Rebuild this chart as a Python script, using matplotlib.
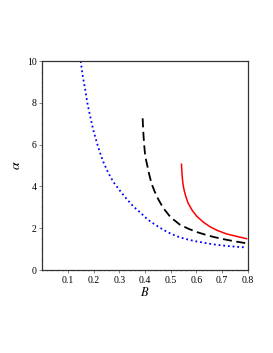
import matplotlib
matplotlib.use("Agg")
import matplotlib.pyplot as plt
from matplotlib.ticker import MultipleLocator

plt.rcParams['font.family'] = ['Liberation Serif', 'DejaVu Serif']
plt.rcParams['mathtext.fontset'] = 'stix'

blue_B = [0.150, 0.158, 0.167, 0.176, 0.186, 0.198, 0.212, 0.225, 0.238, 0.257, 0.277, 0.305,
          0.329, 0.355, 0.381, 0.407, 0.426, 0.45, 0.471, 0.50, 0.536, 0.57, 0.60, 0.665, 0.72, 0.76, 0.795]
blue_a = [10.0, 9.3, 8.69, 8.0, 7.42, 6.75, 6.14, 5.62, 5.18, 4.66, 4.22, 3.76,
          3.40, 3.04, 2.76, 2.46, 2.28, 2.09, 1.93, 1.74, 1.56, 1.45, 1.37, 1.23, 1.15, 1.11, 1.08]

black_B = [0.391, 0.393, 0.396, 0.398, 0.400, 0.404, 0.409, 0.416, 0.426, 0.438, 0.452, 0.471,
           0.50, 0.536, 0.57, 0.601, 0.635, 0.665, 0.70, 0.75, 0.795]
black_a = [7.26, 6.7, 6.14, 5.85, 5.58, 5.28, 5.0, 4.6, 4.12, 3.75, 3.38, 2.97,
           2.52, 2.17, 1.97, 1.82, 1.69, 1.59, 1.49, 1.37, 1.28]

red_B = [0.542, 0.543, 0.544, 0.546, 0.549, 0.553, 0.558, 0.568, 0.584, 0.601, 0.626, 0.652,
         0.68, 0.717, 0.76, 0.795]
red_a = [5.06, 4.8, 4.6, 4.3, 4.02, 3.78, 3.55, 3.19, 2.85, 2.58, 2.30, 2.08,
         1.9, 1.73, 1.6, 1.5]

xticks = [0.1, 0.2, 0.3, 0.4, 0.5, 0.6, 0.7, 0.8]
yticks = [0, 2, 4, 6, 8, 10]

fig = plt.figure(figsize=(2.73, 3.53), dpi=100)
ax = fig.add_axes([0.154, 0.235, 0.754, 0.592])

ax.plot(blue_B, blue_a, color='blue', linestyle=(0, (1, 1.6)), linewidth=1.3)
ax.plot(black_B, black_a, color='black', linestyle=(0, (5, 2.5)), linewidth=1.3)
ax.plot(red_B, red_a, color='red', linestyle='-', linewidth=1.1)

ax.set_xlim(0, 0.8)
ax.set_ylim(0, 10)
ax.set_xticks(xticks)
ax.set_xticklabels([f"{v:.1f}" for v in xticks])
ax.set_yticks(yticks)
ax.xaxis.set_minor_locator(MultipleLocator(0.02))
ax.yaxis.set_minor_locator(MultipleLocator(0.5))
ax.tick_params(which='major', direction='out', length=2, width=0.5, labelsize=7, pad=2, color='#555555')
ax.tick_params(which='minor', direction='out', length=1, width=0.4, color='#999999')
for s in ax.spines.values():
    s.set_linewidth(0.9)
    s.set_color('#333333')

ax.set_xlabel(r'$B$', fontsize=9, labelpad=1)
ax.set_ylabel(r'$\alpha$', fontsize=10, labelpad=3)

fig.savefig('out.png', dpi=100)
